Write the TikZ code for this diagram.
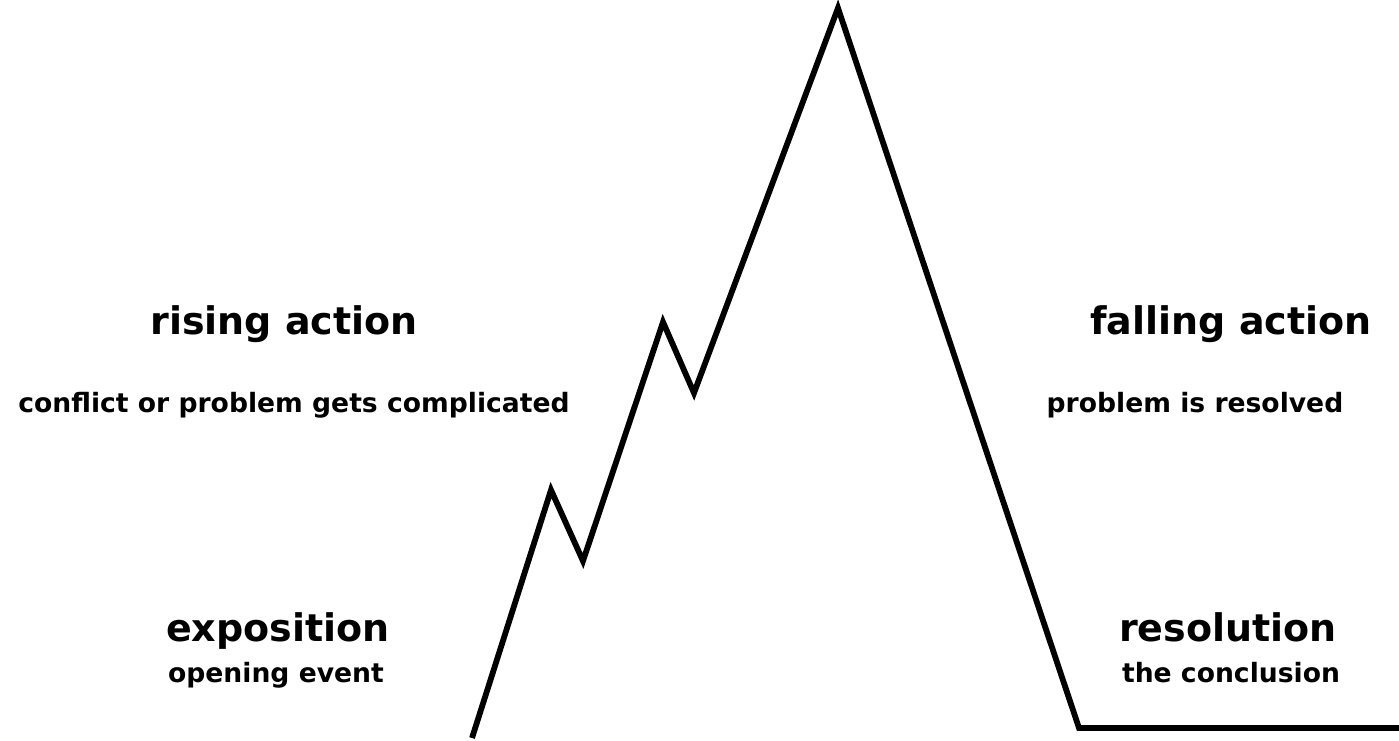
\documentclass[tikz,border=0pt]{standalone}
\usepackage{fontspec}
\setmainfont{DejaVu Sans}
\begin{document}
\begin{tikzpicture}[x=0.5pt,y=-0.5pt,
  plotline/.style={line width=2.9pt,line join=miter,black},
  head/.style={font=\bfseries\fontsize{19}{22}\selectfont,inner sep=0pt,anchor=base},
  sub/.style={font=\bfseries\fontsize{13.3}{16}\selectfont,inner sep=0pt,anchor=base}]
\useasboundingbox (0,0) rectangle (1399,740);
\coordinate (s) at (472,738);
\coordinate (p1) at (551,490);
\coordinate (v1) at (583,561);
\coordinate (p2) at (663,322);
\coordinate (v2) at (694,393);
\coordinate (top) at (838,8);
\coordinate (br) at (1079,728);
\coordinate (e) at (1399,728);
\draw[plotline] (s) -- (p1) -- (v1) -- (p2) -- (v2) -- (top) -- (br) -- (e);
\node[head] (ra) at (284,334) {rising action};
\node[sub] (rs) at (294,412) {conflict or problem gets complicated};
\node[head] (fa) at (1231,334) {falling action};
\node[sub] (fs) at (1195,412) {problem is resolved};
\node[head] (ex) at (278,641) {exposition};
\node[sub] (es) at (276,682) {opening event};
\node[head] (re) at (1228,641) {resolution};
\node[sub] (rss) at (1231,682) {the conclusion};
\end{tikzpicture}
\end{document}
